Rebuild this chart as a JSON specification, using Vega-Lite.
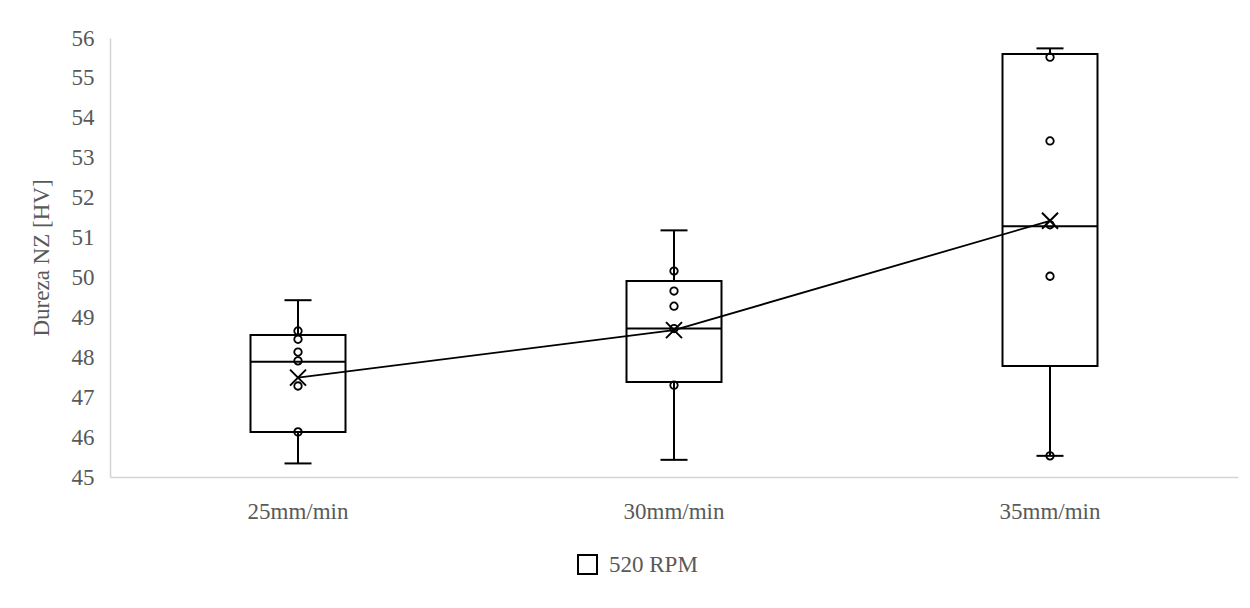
{
  "$schema": "https://vega.github.io/schema/vega-lite/v6.json",
  "width": 1128,
  "height": 439,
  "autosize": {"type": "none"},
  "padding": {"left": 110, "top": 38, "right": 12, "bottom": 131},
  "background": "white",
  "datasets": {
    "summary": [
      {"cat": "25mm/min", "series": "520 RPM", "min": 45.34, "q1": 46.13, "median": 47.89, "q3": 48.56, "max": 49.43, "mean": 47.49},
      {"cat": "30mm/min", "series": "520 RPM", "min": 45.43, "q1": 47.38, "median": 48.72, "q3": 49.91, "max": 51.18, "mean": 48.68},
      {"cat": "35mm/min", "series": "520 RPM", "min": 45.53, "q1": 47.78, "median": 51.28, "q3": 55.6, "max": 55.74, "mean": 51.42}
    ],
    "points": [
      {"cat": "25mm/min", "value": 48.66},
      {"cat": "25mm/min", "value": 48.45},
      {"cat": "25mm/min", "value": 48.13},
      {"cat": "25mm/min", "value": 47.91},
      {"cat": "25mm/min", "value": 47.28},
      {"cat": "25mm/min", "value": 46.13},
      {"cat": "30mm/min", "value": 50.16},
      {"cat": "30mm/min", "value": 49.66},
      {"cat": "30mm/min", "value": 49.28},
      {"cat": "30mm/min", "value": 48.72},
      {"cat": "30mm/min", "value": 47.3},
      {"cat": "35mm/min", "value": 55.52},
      {"cat": "35mm/min", "value": 53.42},
      {"cat": "35mm/min", "value": 51.32},
      {"cat": "35mm/min", "value": 50.03},
      {"cat": "35mm/min", "value": 45.53}
    ]
  },
  "config": {
    "view": {"stroke": null},
    "font": "Liberation Serif",
    "axis": {
      "labelFont": "Liberation Serif",
      "titleFont": "Liberation Serif",
      "labelFontSize": 23,
      "titleFontSize": 23,
      "labelColor": "#595959",
      "titleColor": "#595959",
      "titleFontWeight": "normal",
      "ticks": false,
      "tickSize": 0,
      "grid": false,
      "labelOverlap": false,
      "domainColor": "#d4d4d4",
      "domainWidth": 1.5
    }
  },
  "encoding": {
    "x": {
      "field": "cat",
      "type": "nominal",
      "sort": null,
      "scale": {"paddingInner": 0, "paddingOuter": 0},
      "axis": {"title": null, "labelAngle": 0, "labelPadding": 23, "labelBaseline": "top"}
    }
  },
  "layer": [
    {
      "data": {"name": "summary"},
      "mark": {"type": "rule", "color": "black", "strokeWidth": 2},
      "encoding": {
        "y": {"field": "min", "type": "quantitative", "title": "Dureza NZ [HV]",
          "scale": {"domain": [45, 56], "nice": false, "zero": false},
          "axis": {"values": [45, 46, 47, 48, 49, 50, 51, 52, 53, 54, 55, 56], "labelOverlap": false, "labelPadding": 16, "titlePadding": 18}},
        "y2": {"field": "max"}
      }
    },
    {
      "data": {"name": "summary"},
      "mark": {"type": "bar", "fill": "white", "strokeWidth": 2, "width": 95},
      "encoding": {
        "y": {"field": "q1", "type": "quantitative", "title": "Dureza NZ [HV]", "scale": {"domain": [45, 56], "nice": false, "zero": false},
          "axis": {"values": [45, 46, 47, 48, 49, 50, 51, 52, 53, 54, 55, 56], "labelOverlap": false, "labelPadding": 16, "titlePadding": 18}},
        "y2": {"field": "q3"},
        "stroke": {
          "field": "series", "type": "nominal",
          "scale": {"range": ["black"]},
          "legend": {
            "title": null, "orient": "none", "legendX": 466, "legendY": 515, "padding": 0,
            "symbolType": "square", "symbolFillColor": "white", "symbolStrokeColor": "black", "symbolStrokeWidth": 2, "symbolSize": 361,
            "labelFont": "Liberation Serif", "labelFontSize": 23, "labelColor": "#595959", "labelOffset": 10
          }
        }
      }
    },
    {
      "data": {"name": "summary"},
      "mark": {"type": "tick", "color": "black", "size": 95, "thickness": 2, "opacity": 1},
      "encoding": {
        "y": {"field": "median", "type": "quantitative", "title": "Dureza NZ [HV]", "scale": {"domain": [45, 56], "nice": false, "zero": false},
          "axis": {"values": [45, 46, 47, 48, 49, 50, 51, 52, 53, 54, 55, 56], "labelOverlap": false, "labelPadding": 16, "titlePadding": 18}}
      }
    },
    {
      "data": {"name": "summary"},
      "mark": {"type": "tick", "color": "black", "size": 27, "thickness": 2, "opacity": 1},
      "encoding": {
        "y": {"field": "min", "type": "quantitative", "title": "Dureza NZ [HV]", "scale": {"domain": [45, 56], "nice": false, "zero": false},
          "axis": {"values": [45, 46, 47, 48, 49, 50, 51, 52, 53, 54, 55, 56], "labelOverlap": false, "labelPadding": 16, "titlePadding": 18}}
      }
    },
    {
      "data": {"name": "summary"},
      "mark": {"type": "tick", "color": "black", "size": 27, "thickness": 2, "opacity": 1},
      "encoding": {
        "y": {"field": "max", "type": "quantitative", "title": "Dureza NZ [HV]", "scale": {"domain": [45, 56], "nice": false, "zero": false},
          "axis": {"values": [45, 46, 47, 48, 49, 50, 51, 52, 53, 54, 55, 56], "labelOverlap": false, "labelPadding": 16, "titlePadding": 18}}
      }
    },
    {
      "data": {"name": "summary"},
      "mark": {"type": "line", "color": "black", "strokeWidth": 1.8},
      "encoding": {
        "y": {"field": "mean", "type": "quantitative", "title": "Dureza NZ [HV]", "scale": {"domain": [45, 56], "nice": false, "zero": false},
          "axis": {"values": [45, 46, 47, 48, 49, 50, 51, 52, 53, 54, 55, 56], "labelOverlap": false, "labelPadding": 16, "titlePadding": 18}}
      }
    },
    {
      "data": {"name": "points"},
      "mark": {"type": "point", "shape": "circle", "filled": false, "color": "black", "strokeWidth": 1.8, "size": 56, "opacity": 1},
      "encoding": {
        "y": {"field": "value", "type": "quantitative", "title": "Dureza NZ [HV]", "scale": {"domain": [45, 56], "nice": false, "zero": false},
          "axis": {"values": [45, 46, 47, 48, 49, 50, 51, 52, 53, 54, 55, 56], "labelOverlap": false, "labelPadding": 16, "titlePadding": 18}}
      }
    },
    {
      "data": {"name": "summary"},
      "mark": {"type": "point", "shape": "M-1,-1L1,1M1,-1L-1,1", "filled": false, "color": "black", "strokeWidth": 2, "size": 256, "opacity": 1},
      "encoding": {
        "y": {"field": "mean", "type": "quantitative", "title": "Dureza NZ [HV]", "scale": {"domain": [45, 56], "nice": false, "zero": false},
          "axis": {"values": [45, 46, 47, 48, 49, 50, 51, 52, 53, 54, 55, 56], "labelOverlap": false, "labelPadding": 16, "titlePadding": 18}}
      }
    }
  ]
}
